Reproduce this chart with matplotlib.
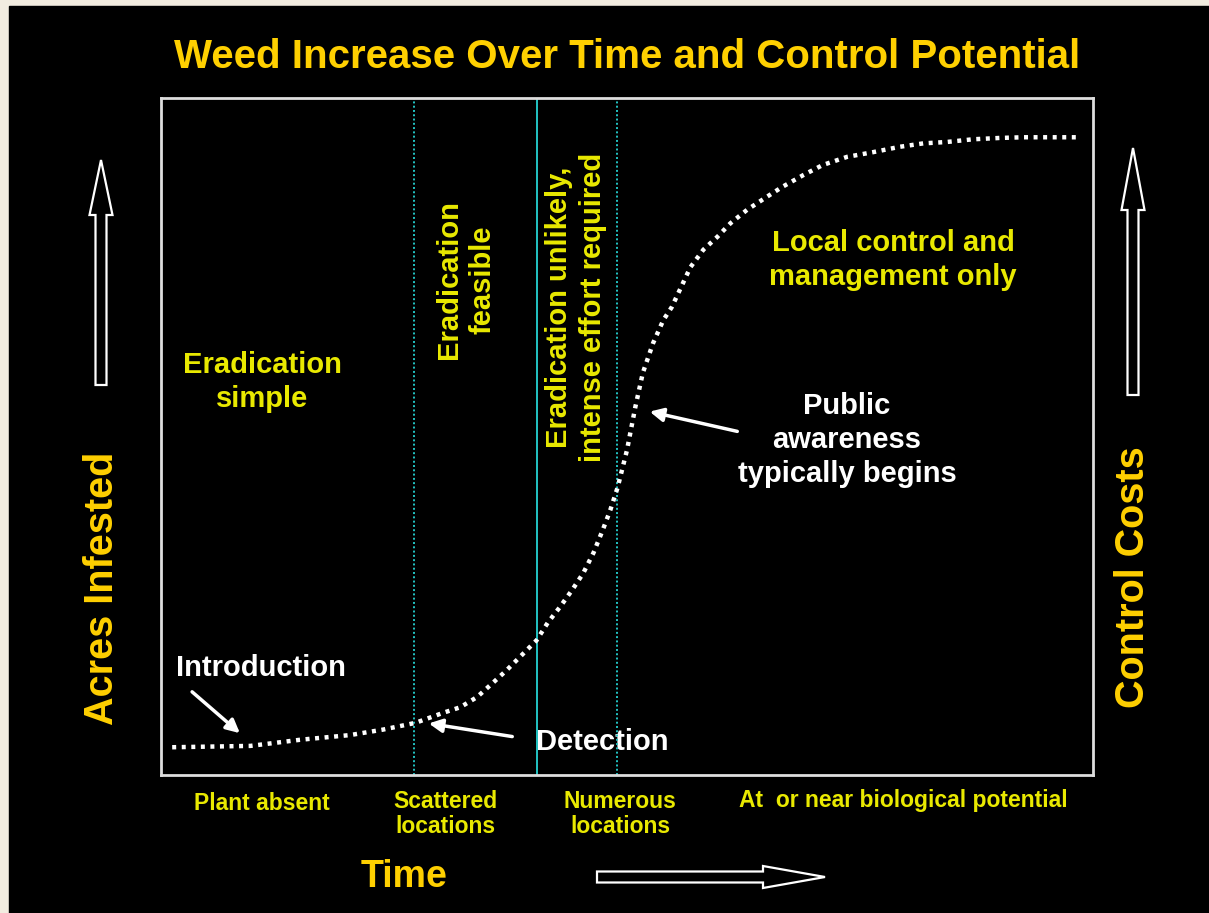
import matplotlib
matplotlib.use("Agg")
import matplotlib.pyplot as plt
from matplotlib.patches import Rectangle, FancyArrow

# ---- data (percent of plot box: x = time, y = acres infested) ----
curve_x = [1.2, 9.6, 14.9, 20.3, 23.8, 27.3, 30.3, 32.1, 33.9, 35.6, 37.1, 38.7,
           40.3, 41.5, 42.8, 44.1, 45.3, 46.4, 47.4, 48.2, 49.0, 50.0, 50.9, 51.7,
           52.8, 53.9, 54.8, 56.8, 58.2, 59.7, 61.1, 62.9, 65.0, 66.7, 68.9, 71.0,
           73.6, 76.4, 79.3, 81.8, 84.3, 87.1, 90.0, 92.5, 95.4, 98.3]
curve_y = [4.1, 4.3, 5.2, 5.9, 6.7, 7.7, 9.2, 10.0, 11.5, 13.6, 15.5, 17.7,
           19.9, 22.5, 24.8, 27.3, 29.8, 32.8, 36.2, 39.1, 42.5, 48.0, 54.4, 59.4,
           63.8, 67.2, 69.1, 75.0, 77.6, 79.5, 81.5, 83.5, 85.4, 86.9, 88.6, 90.1,
           91.3, 92.0, 92.8, 93.3, 93.5, 93.9, 94.1, 94.2, 94.2, 94.2]

stage_lines = [27.1, 40.3, 48.9]
stage_styles = [(0, (1, 1.2)), "-", (0, (1, 1.2))]

stage_labels = ["Plant absent", "Scattered\nlocations", "Numerous\nlocations",
                "At  or near biological potential"]
zone_labels = ["Eradication\nsimple", "Eradication\nfeasible",
               "Eradication unlikely,\nintense effort required",
               "Local control and\nmanagement only"]

TITLE = "Weed Increase Over Time and Control Potential"
YELLOW = "#E9E900"
GOLD = "#FFD000"
TEAL = "#22C4C4"
FONT = "Liberation Sans"

W, H = 1209, 913
fig = plt.figure(figsize=(W / 100, H / 100), dpi=100)
fig.patch.set_facecolor("#F2ECE0")

# overlay in pixel coordinates for the slide decoration
bg = fig.add_axes([0, 0, 1, 1])
bg.set_xlim(0, W)
bg.set_ylim(H, 0)
bg.axis("off")
bg.add_patch(Rectangle((9, 6), W - 9, H - 6, color="black", zorder=0))

# plot box
ax = fig.add_axes([161 / W, (H - 775) / H, 932 / W, 677 / H])
ax.set_facecolor("none")
ax.set_xlim(0, 100)
ax.set_ylim(0, 100)
ax.set_xticks([])
ax.set_yticks([])
for s in ax.spines.values():
    s.set_color("#DDDDDD")
    s.set_linewidth(2)

for xv, ls in zip(stage_lines, stage_styles):
    ax.axvline(xv, color=TEAL, lw=1.4, linestyle=ls, zorder=1)

ax.plot(curve_x, curve_y, color="white", lw=3.2, linestyle=(0, (0.9, 1.25)),
        dash_capstyle="butt", zorder=3)

# title and axis words
bg.text(627, 57, TITLE, color=GOLD, fontsize=29, fontweight="bold",
        family=FONT, ha="center", va="center")
bg.text(404, 877, "Time", color=GOLD, fontsize=27, fontweight="bold",
        family=FONT, ha="center", va="center")
bg.text(102, 588, "Acres Infested", color=GOLD, fontsize=28.5, fontweight="bold",
        family=FONT, ha="center", va="center", rotation=90)
bg.text(1133, 577, "Control Costs", color=GOLD, fontsize=28.5, fontweight="bold",
        family=FONT, ha="center", va="center", rotation=90)

# zone texts
body = dict(fontsize=21, fontweight="bold", family=FONT, ha="center",
            va="center", multialignment="center", linespacing=1.25)
bg.text(262, 382, zone_labels[0], color=YELLOW, **body)
bg.text(466, 280, zone_labels[1], color=YELLOW, rotation=90, **body)
bg.text(576, 307, zone_labels[2], color=YELLOW, rotation=90, **body)
bg.text(893, 260, zone_labels[3], color=YELLOW, **body)

# stage labels under the box
stage_pos = [(262, 803), (445, 814), (620, 814), (903, 800)]
for (px, py), lab in zip(stage_pos, stage_labels):
    bg.text(px, py, lab, color=YELLOW, fontsize=16.5, fontweight="bold",
            family=FONT, ha="center", va="center", multialignment="center",
            linespacing=1.1)

# white callouts
arrow_kw = dict(arrowstyle="-|>", color="white", lw=2.5, mutation_scale=20)
bg.text(176, 668, "Introduction", color="white", fontsize=21, fontweight="bold",
        family=FONT, ha="left", va="center")
bg.annotate("", xy=(242, 735), xytext=(190, 690), arrowprops=arrow_kw)
bg.text(536, 742, "Detection", color="white", fontsize=21, fontweight="bold",
        family=FONT, ha="left", va="center")
bg.annotate("", xy=(426, 723), xytext=(515, 737), arrowprops=arrow_kw)
bg.text(847, 440, "Public\nawareness\ntypically begins", color="white", **body)
bg.annotate("", xy=(647, 411), xytext=(740, 432), arrowprops=arrow_kw)

# hollow block arrows
hollow = dict(fill=False, ec="white", lw=1.6, length_includes_head=True)
bg.add_patch(FancyArrow(101, 385, 0, -225, width=11, head_width=23,
                        head_length=55, **hollow))
bg.add_patch(FancyArrow(1133, 395, 0, -247, width=11, head_width=23,
                        head_length=62, **hollow))
bg.add_patch(FancyArrow(597, 877, 228, 0, width=11, head_width=22,
                        head_length=62, **hollow))

fig.savefig("out.png", dpi=100, facecolor=fig.get_facecolor())
